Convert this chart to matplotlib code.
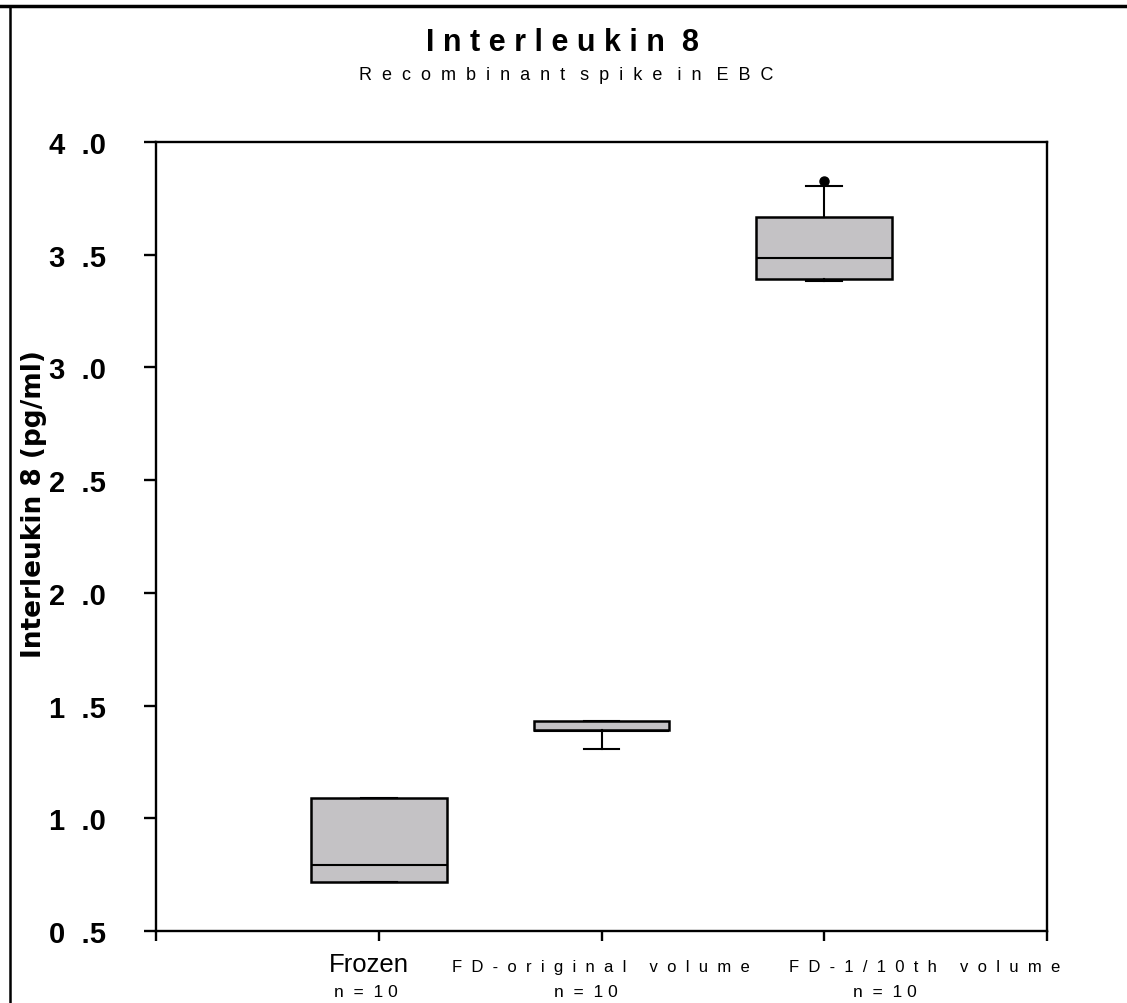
import numpy as np
import matplotlib
matplotlib.use("Agg")
import matplotlib.pyplot as plt
from matplotlib.lines import Line2D

# ---- data ----
categories = ["Frozen", "FD-original volume", "FD-1/10th volume"]
n_labels = ["n = 10", "n = 10", "n = 10"]
q1 = [0.717, 1.392, 3.393]
median = [0.793, 1.389, 3.486]
q3 = [1.090, 1.432, 3.668]
whisker_low = [0.717, 1.307, 3.384]
whisker_high = [1.090, 1.432, 3.805]
outliers = [[], [], [3.827]]
ytick_values = [0.5, 1.0, 1.5, 2.0, 2.5, 3.0, 3.5, 4.0]
title = "Interleukin 8"
subtitle = "Recombinant spike in EBC"
ylabel = "Interleukin 8 (pg/ml)"

# ---- layout / style ----
W, H = 1127, 1004
label_dx = [-0.045, -0.005, 0.45]
n_dx = [-0.06, -0.07, 0.27]
box_color = "#c4c2c5"
FONT = ["Liberation Sans", "DejaVu Sans"]


def spaced(s, gap=1, word=3):
    words = s.split(" ")
    return (" " * word).join((" " * gap).join(w) for w in words)


fig = plt.figure(figsize=(W / 100, H / 100), dpi=100)
ax = fig.add_axes([156 / W, (H - 932) / H, (1047 - 156) / W, (932 - 143) / H])

positions = np.arange(1, len(categories) + 1)
stats = []
for i, c in enumerate(categories):
    stats.append(dict(label=c, q1=q1[i], med=median[i], q3=q3[i],
                      whislo=whisker_low[i], whishi=whisker_high[i],
                      fliers=outliers[i]))

ax.bxp(stats, positions=positions, widths=0.61, capwidths=0.16,
       patch_artist=True, showfliers=True,
       boxprops=dict(facecolor=box_color, edgecolor="black", linewidth=1.8),
       medianprops=dict(color="black", linewidth=1.5),
       whiskerprops=dict(color="black", linewidth=1.5),
       capprops=dict(color="black", linewidth=1.5),
       flierprops=dict(marker="o", markerfacecolor="black",
                       markeredgecolor="black", markersize=6.5))

ax.set_xlim(0, len(categories) + 1)
ax.set_ylim(ytick_values[0], ytick_values[-1])
ax.set_xticks(np.arange(0, len(categories) + 2))
ax.set_xticklabels([])
ax.set_yticks(ytick_values)
ax.set_yticklabels([f"{v:.1f}".replace(".", "  .") for v in ytick_values],
                   family=FONT, fontweight="bold", fontsize=21)
ax.tick_params(axis="y", direction="out", length=9, width=1.7, pad=27)
ax.tick_params(axis="x", direction="out", length=7, width=1.7)
for sp in ax.spines.values():
    sp.set_linewidth(1.7)

# category labels
xtr = ax.get_xaxis_transform()
for i, c in enumerate(categories):
    if i == 0:
        ax.text(positions[i] + label_dx[i], -0.042, c, transform=xtr,
                ha="center", va="center", fontsize=18.5, family=FONT)
    else:
        ax.text(positions[i] + label_dx[i], -0.0456, spaced(c, 2, 5),
                transform=xtr, ha="center", va="center", fontsize=12,
                family=FONT)
    ax.text(positions[i] + n_dx[i], -0.0773, spaced(n_labels[i], 1, 2),
            transform=xtr, ha="center", va="center", fontsize=12.5,
            family=FONT)

# titles and y label
fig.text(562 / W, 1 - 43 / H, spaced(title, 1, 2), ha="center", va="center",
         fontsize=22, fontweight="bold", family=FONT)
fig.text(566 / W, 1 - 75 / H, spaced(subtitle, 2, 3), ha="center",
         va="center", fontsize=13, family=FONT)
fig.text(34 / W, 1 - 504 / H, ylabel, rotation=90, ha="center", va="center",
         fontsize=19, fontweight="bold", family=["DejaVu Sans"])

# figure frame lines (top and left)
fig.add_artist(Line2D([0, 1], [1 - 7 / H, 1 - 7 / H], transform=fig.transFigure,
                      color="black", linewidth=2.5))
fig.add_artist(Line2D([10 / W, 10 / W], [0, 1 - 7 / H], transform=fig.transFigure,
                      color="black", linewidth=1.8))

fig.savefig("out.png", dpi=100)
